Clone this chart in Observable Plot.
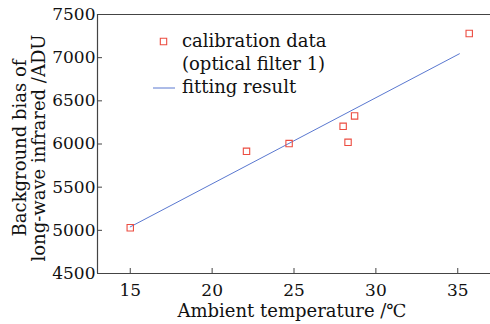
<!DOCTYPE html>
<html><head><meta charset="utf-8">
<script src="https://cdn.jsdelivr.net/npm/d3@7"></script>
<script src="https://cdn.jsdelivr.net/npm/@observablehq/plot@0.6"></script>
<style>body{margin:0;background:#fff}</style>
</head><body><div id="chart"></div>
<script>
const tempX = [15, 22.1, 24.7, 28.0, 28.3, 28.7, 35.7];
const biasY = [5030, 5915, 6005, 6205, 6020, 6325, 7280];
const fitX = [15, 35.1];
const fitY = [5040, 7045];
const xTicks = [15, 20, 25, 30, 35];
const yTicks = [4500, 5000, 5500, 6000, 6500, 7000, 7500];
const legendLabels = ["calibration data", "(optical filter 1)", "fitting result"];
const xTitle = "Ambient temperature /℃";
const yTitle = ["Background bias of", "long-wave infrared /ADU"];

const pts = tempX.map((x, i) => ({x, y: biasY[i]}));
const fit = fitX.map((x, i) => ({x, y: fitY[i]}));
const font = "DejaVu Serif";
const axisColor = "#444";
const W = 490, H = 324, mL = 97, mR = 0, mT = 14, mB = 51;
const xDom = [13, 37], yDom = [4500, 7500];
const tickPx = 5;
const tickLenX = tickPx * (xDom[1] - xDom[0]) / (W - mL - mR);
const tickLenY = tickPx * (yDom[1] - yDom[0]) / (H - mT - mB);

const chart = Plot.plot({
  width: W, height: H,
  marginLeft: mL, marginRight: mR, marginTop: mT, marginBottom: mB,
  style: {fontFamily: font, fontSize: "17px", color: "#111", background: "#fff"},
  x: {domain: xDom},
  y: {domain: yDom},
  marks: [
    Plot.ruleY([yDom[1]], {stroke: axisColor, strokeWidth: 1.2}),
    Plot.ruleY([yDom[0]], {stroke: axisColor, strokeWidth: 1.2}),
    Plot.ruleX([xDom[0]], {stroke: axisColor, strokeWidth: 1.2}),
    Plot.ruleX(xTicks, {x: d => d, y1: yDom[0], y2: yDom[0] + tickLenY, stroke: axisColor, strokeWidth: 1}),
    Plot.ruleY(yTicks, {y: d => d, x1: xDom[0], x2: xDom[0] + tickLenX, stroke: axisColor, strokeWidth: 1}),
    Plot.axisX(xTicks, {tickSize: 0, tickPadding: 10, tickFormat: d3.format("d"), fontSize: 17, fill: "#111", label: null}),
    Plot.axisY(yTicks, {tickSize: 0, tickPadding: 2, tickFormat: d3.format("d"), fontSize: 17, fill: "#111", label: null}),
    Plot.line(fit, {x: "x", y: "y", stroke: "#5a78d0", strokeWidth: 1}),
    Plot.dot(pts, {x: "x", y: "y", symbol: "square", r: 3.6, stroke: "#ec4c40", strokeWidth: 1.1, fill: "none"}),
    Plot.dot([0], {frameAnchor: "top-left", dx: 66, dy: 27, symbol: "square", r: 3.6, stroke: "#ec4c40", strokeWidth: 1.1, fill: "none"})
  ]
});
const svg = d3.select(chart);
svg.append("line").attr("x1", 153).attr("x2", 175).attr("y1", 88).attr("y2", 88).attr("stroke", "#5a78d0").attr("stroke-width", 1);
const lg = svg.append("g").attr("font-family", font).attr("font-size", 18).attr("fill", "#111").attr("text-anchor", "start");
[47, 70, 93].forEach((y, i) => lg.append("text").attr("x", 182).attr("y", y).text(legendLabels[i]));
svg.append("text").attr("x", 292).attr("y", 317).attr("text-anchor", "middle")
  .attr("font-family", font).attr("font-size", 18).attr("fill", "#111").text(xTitle);
const yl = svg.append("text").attr("transform", "translate(26,148) rotate(-90)").attr("text-anchor", "middle")
  .attr("font-family", font).attr("font-size", 18).attr("fill", "#111");
yl.append("tspan").attr("x", 0).attr("y", 0).text(yTitle[0]);
yl.append("tspan").attr("x", 0).attr("y", 19).text(yTitle[1]);
document.getElementById("chart").appendChild(chart);
</script></body></html>
